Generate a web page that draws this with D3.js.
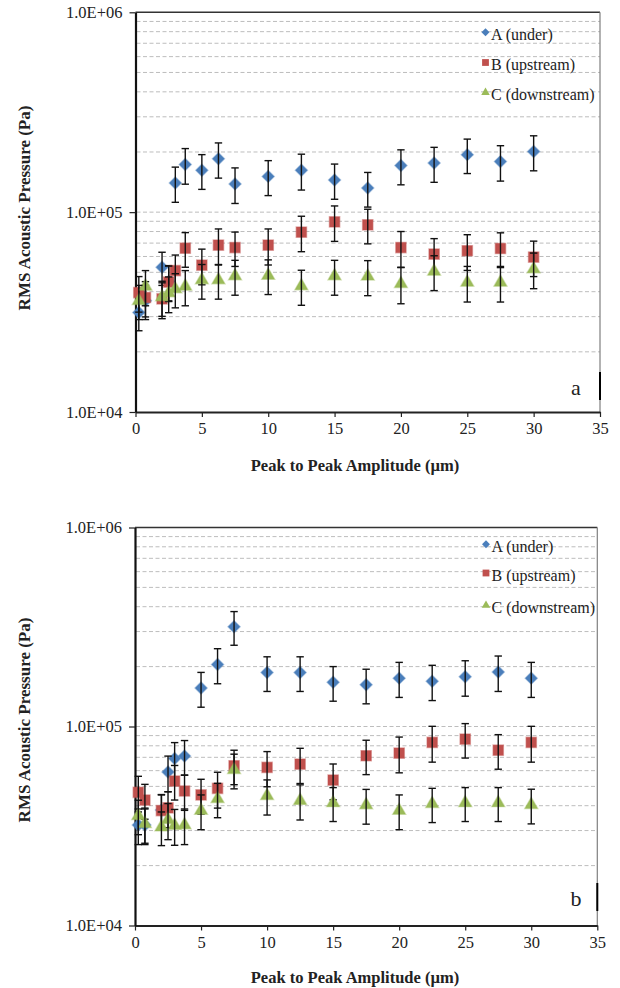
<!DOCTYPE html>
<html>
<head>
<meta charset="utf-8">
<script src="https://cdn.jsdelivr.net/npm/d3@7"></script>
<style>
  html, body { margin: 0; padding: 0; background: #fff; }
  svg { display: block; }
  text { font-family: "Liberation Serif", "Times New Roman", serif; fill: #222; }
</style>
</head>
<body>
<svg id="chart" width="620" height="988"></svg>
<script>
// ---------- data ----------
const amplitude = [0.25, 0.75, 2, 2.5, 3, 3.75, 5, 6.25, 7.5, 10, 12.5, 15, 17.5, 20, 22.5, 25, 27.5, 30];
const xTicks = [0, 5, 10, 15, 20, 25, 30, 35];
const yTicks = [1e4, 1e5, 1e6];
const yTickLabels = ["1.0E+04", "1.0E+05", "1.0E+06"];
const seriesNames = ["A (under)", "B (upstream)", "C (downstream)"];

// panel a
const aUnder      = [31500, 36000, 53000, 45000, 140000, 173000, 162000, 185000, 138500, 151000, 162000, 145000, 132000, 171000, 176000, 194000, 179000, 201000];
const aUnderErr   = [6000, 7000, 10000, 9000, 28000, 35000, 32000, 37000, 28000, 30000, 33000, 29000, 26000, 34000, 35000, 38000, 36000, 40000];
const aUp         = [39600, 37400, 36800, 44700, 51000, 66000, 54300, 68400, 66500, 68400, 79400, 89400, 86400, 66500, 61700, 64100, 65800, 59600];
const aUpErr      = [8000, 7500, 7500, 9000, 10000, 13000, 11000, 14000, 13000, 14000, 16000, 18000, 17000, 13500, 12000, 13000, 13000, 12000];
const aDown       = [36000, 42500, 37600, 39400, 41200, 42500, 45700, 45700, 47900, 48200, 42700, 47900, 47700, 43800, 50500, 44500, 44500, 51900];
const aDownErr    = [7000, 8500, 7500, 8000, 8000, 8500, 9000, 9000, 9500, 9500, 8500, 9500, 9500, 9000, 10000, 9000, 9000, 10500];

// panel b
const bUnder      = [32000, 32000, 38000, 59000, 69000, 71000, 156000, 205000, 317000, 187000, 187000, 167000, 162000, 175000, 169000, 178000, 188000, 175000];
const bUnderErr   = [6500, 6500, 7500, 12000, 14000, 14000, 31000, 41000, 61000, 37000, 37000, 33000, 32000, 35000, 34000, 36000, 38000, 35000];
const bUp         = [46700, 42700, 37800, 39000, 53200, 47400, 45300, 48900, 63500, 62300, 64700, 53800, 71300, 73500, 83200, 86400, 76000, 83200];
const bUpErr      = [9500, 8500, 7500, 8000, 10500, 9500, 9000, 10000, 12500, 12500, 13000, 11000, 14000, 15000, 17000, 17000, 15000, 17000];
const bDown       = [35600, 32400, 31200, 34000, 31800, 32000, 37800, 43300, 60600, 44900, 42400, 41300, 40300, 37800, 40900, 41300, 41300, 40400];
const bDownErr    = [7000, 6500, 6000, 7000, 6500, 6500, 7500, 8500, 12000, 9000, 8500, 8000, 8000, 7500, 8000, 8000, 8000, 8000];

// ---------- styling / layout ----------
const colors = ["#4a7ebb", "#c0504d", "#9bbb59"];
const shapes = ["diamond", "square", "triangle"];

const panels = [
  { label: "a", left: 135.5, right: 600, top: 12.3, bottom: 412, legendX: 485.5, legendY: [32.3, 62.5, 92.5],
    yTitleY: 208, xTitleY: 465, barY: [372, 400],
    series: [[aUnder, aUnderErr], [aUp, aUpErr], [aDown, aDownErr]] },
  { label: "b", left: 135, right: 597.3, top: 527.5, bottom: 925.5, legendX: 486, legendY: [544.3, 573, 605.3],
    yTitleY: 720, xTitleY: 977, barY: [883, 911],
    series: [[bUnder, bUnderErr], [bUp, bUpErr], [bDown, bDownErr]] }
];

const svg = d3.select("#chart");

function markerPath(shape, big) {
  const k = big ? 1 : 0.66;
  if (shape === "diamond") return d3.symbol(d3.symbolSquare, 72 * k * k)();
  if (shape === "square") return d3.symbol(d3.symbolSquare, 106 * k * k)();
  return d3.symbol(d3.symbolTriangle, 72 * k * k)();
}

panels.forEach(p => {
  const g = svg.append("g");
  const x = d3.scaleLinear().domain([0, 35]).range([p.left, p.right]);
  const y = d3.scaleLog().domain([1e4, 1e6]).range([p.bottom, p.top]);

  // gridlines (minor + 1e5)
  const grid = y.ticks().filter(v => v > 1e4 && v < 1e6);
  g.append("g").selectAll("line").data(grid).join("line")
    .attr("x1", p.left + 1).attr("x2", p.right)
    .attr("y1", d => y(d)).attr("y2", d => y(d))
    .attr("stroke", "#bdbdbd").attr("stroke-width", 1)
    .attr("stroke-dasharray", "4,2.5");

  // top & right borders
  g.append("line").attr("x1", p.left).attr("x2", p.right).attr("y1", p.top).attr("y2", p.top)
    .attr("stroke", "#333").attr("stroke-width", 1.6);
  g.append("line").attr("x1", p.right).attr("x2", p.right).attr("y1", p.top).attr("y2", p.bottom)
    .attr("stroke", "#7f7f7f").attr("stroke-width", 1.2);
  g.append("line").attr("x1", p.right).attr("x2", p.right).attr("y1", p.barY[0]).attr("y2", p.barY[1])
    .attr("stroke", "#000").attr("stroke-width", 2);

  // axes
  const xAxis = d3.axisBottom(x).tickValues(xTicks).tickSize(5).tickSizeOuter(0).tickFormat(d3.format("d"));
  const xg = g.append("g").attr("transform", `translate(0,${p.bottom})`).call(xAxis);
  xg.select(".domain").attr("stroke", "#222").attr("stroke-width", 2);
  xg.selectAll(".tick line").attr("stroke", "#222").attr("stroke-width", 1.2);
  xg.selectAll(".tick text").attr("font-size", 16.5).attr("font-family", "Liberation Serif").attr("fill", "#222").attr("dy", "1.05em").attr("y", 5);

  const yAxis = d3.axisLeft(y).tickValues(yTicks).tickSize(6).tickSizeOuter(0)
    .tickFormat((d, i) => yTickLabels[i]);
  const yg = g.append("g").attr("transform", `translate(${p.left},0)`).call(yAxis);
  yg.select(".domain").attr("stroke", "#111").attr("stroke-width", 2.2);
  yg.selectAll(".tick line").attr("stroke", "#222").attr("stroke-width", 1.2);
  yg.selectAll(".tick text").attr("font-size", 16.5).attr("font-family", "Liberation Serif").attr("fill", "#222").attr("x", -13);

  // series: markers then error bars
  p.series.forEach((s, si) => {
    const vals = s[0], errs = s[1];
    const pts = amplitude.map((a, i) => ({ a, v: vals[i], e: errs[i] }));
    const sg = g.append("g");
    sg.selectAll("path").data(pts).join("path")
      .attr("d", markerPath(shapes[si], true))
      .attr("transform", d => `translate(${x(d.a)},${y(d.v)})` + (shapes[si] === "diamond" ? " rotate(45)" : ""))
      .attr("fill", colors[si])
      .attr("stroke", colors[si]).attr("stroke-opacity", 0.45).attr("stroke-width", 1.4);
    const eg = sg.append("g").attr("stroke", "#111").attr("stroke-width", 1.4);
    pts.forEach(d => {
      const y1 = y(d.v + d.e), y2 = y(d.v - d.e), cx = x(d.a);
      eg.append("line").attr("x1", cx).attr("x2", cx).attr("y1", y1).attr("y2", y2);
      eg.append("line").attr("x1", cx - 3.7).attr("x2", cx + 3.7).attr("y1", y1).attr("y2", y1);
      eg.append("line").attr("x1", cx - 3.7).attr("x2", cx + 3.7).attr("y1", y2).attr("y2", y2);
    });
  });

  // legend
  seriesNames.forEach((name, si) => {
    const ly = p.legendY[si];
    g.append("path").attr("d", markerPath(shapes[si], false))
      .attr("transform", `translate(${p.legendX},${ly})` + (shapes[si] === "diamond" ? " rotate(45)" : ""))
      .attr("fill", colors[si]);
    g.append("text").attr("x", p.legendX + 5.5).attr("y", ly + 2.5).attr("dy", "0.32em")
      .attr("font-size", 16).text(name);
  });

  // panel label
  g.append("text").attr("x", 576).attr("y", p.barY[1] - 5).attr("text-anchor", "middle")
    .attr("font-size", 22).text(p.label);

  // axis titles
  g.append("text").attr("x", 355).attr("y", p.xTitleY).attr("dy", "0.35em").attr("text-anchor", "middle")
    .attr("font-size", 16.5).attr("font-weight", "bold").text("Peak to Peak Amplitude (µm)");
  g.append("text").attr("transform", `translate(24,${p.yTitleY}) rotate(-90)`).attr("dy", "0.35em")
    .attr("text-anchor", "middle").attr("font-size", 17).attr("font-weight", "bold")
    .text("RMS Acoustic Pressure (Pa)");
});
</script>
</body>
</html>
